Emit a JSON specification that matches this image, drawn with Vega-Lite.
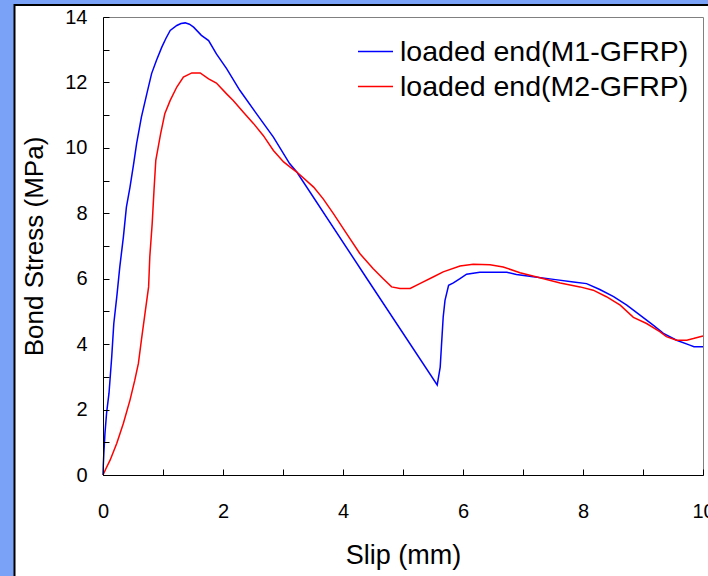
{
  "$schema": "https://vega.github.io/schema/vega-lite/v6.json",
  "width": 600,
  "height": 458,
  "autosize": "none",
  "padding": {"left": 103, "top": 17, "right": 5, "bottom": 101},
  "background": "#7aa2f6",
  "config": {
    "font": "Liberation Sans",
    "view": {"stroke": null},
    "axis": {"grid": false, "domainColor": "#000000", "tickColor": "#000000", "labelColor": "#000000", "titleColor": "#000000", "titleFontWeight": "normal"}
  },
  "datasets": {
    "curves": [
      {"series": "loaded end(M1-GFRP)", "slip": 0, "stress": 0},
      {"series": "loaded end(M1-GFRP)", "slip": 0.005, "stress": 0.3},
      {"series": "loaded end(M1-GFRP)", "slip": 0.015, "stress": 0.7},
      {"series": "loaded end(M1-GFRP)", "slip": 0.033, "stress": 1.28},
      {"series": "loaded end(M1-GFRP)", "slip": 0.06, "stress": 1.9},
      {"series": "loaded end(M1-GFRP)", "slip": 0.1, "stress": 2.5},
      {"series": "loaded end(M1-GFRP)", "slip": 0.145, "stress": 3.6},
      {"series": "loaded end(M1-GFRP)", "slip": 0.18, "stress": 4.63},
      {"series": "loaded end(M1-GFRP)", "slip": 0.23, "stress": 5.45},
      {"series": "loaded end(M1-GFRP)", "slip": 0.28, "stress": 6.36},
      {"series": "loaded end(M1-GFRP)", "slip": 0.34, "stress": 7.28},
      {"series": "loaded end(M1-GFRP)", "slip": 0.39, "stress": 8.19},
      {"series": "loaded end(M1-GFRP)", "slip": 0.45, "stress": 8.8},
      {"series": "loaded end(M1-GFRP)", "slip": 0.51, "stress": 9.5},
      {"series": "loaded end(M1-GFRP)", "slip": 0.56, "stress": 10.13},
      {"series": "loaded end(M1-GFRP)", "slip": 0.64, "stress": 10.94},
      {"series": "loaded end(M1-GFRP)", "slip": 0.73, "stress": 11.65},
      {"series": "loaded end(M1-GFRP)", "slip": 0.81, "stress": 12.27},
      {"series": "loaded end(M1-GFRP)", "slip": 0.89, "stress": 12.67},
      {"series": "loaded end(M1-GFRP)", "slip": 0.98, "stress": 13.08},
      {"series": "loaded end(M1-GFRP)", "slip": 1.05, "stress": 13.35},
      {"series": "loaded end(M1-GFRP)", "slip": 1.12, "stress": 13.59},
      {"series": "loaded end(M1-GFRP)", "slip": 1.23, "stress": 13.74},
      {"series": "loaded end(M1-GFRP)", "slip": 1.3, "stress": 13.8},
      {"series": "loaded end(M1-GFRP)", "slip": 1.37, "stress": 13.82},
      {"series": "loaded end(M1-GFRP)", "slip": 1.44, "stress": 13.78},
      {"series": "loaded end(M1-GFRP)", "slip": 1.51, "stress": 13.69},
      {"series": "loaded end(M1-GFRP)", "slip": 1.64, "stress": 13.44},
      {"series": "loaded end(M1-GFRP)", "slip": 1.76, "stress": 13.28},
      {"series": "loaded end(M1-GFRP)", "slip": 1.89, "stress": 12.87},
      {"series": "loaded end(M1-GFRP)", "slip": 2.06, "stress": 12.42},
      {"series": "loaded end(M1-GFRP)", "slip": 2.28, "stress": 11.76},
      {"series": "loaded end(M1-GFRP)", "slip": 2.56, "stress": 11.04},
      {"series": "loaded end(M1-GFRP)", "slip": 2.84, "stress": 10.33},
      {"series": "loaded end(M1-GFRP)", "slip": 3.11, "stress": 9.52},
      {"series": "loaded end(M1-GFRP)", "slip": 3.23, "stress": 9.26},
      {"series": "loaded end(M1-GFRP)", "slip": 4.4, "stress": 6.0},
      {"series": "loaded end(M1-GFRP)", "slip": 5.57, "stress": 2.75},
      {"series": "loaded end(M1-GFRP)", "slip": 5.62, "stress": 3.3},
      {"series": "loaded end(M1-GFRP)", "slip": 5.64, "stress": 3.92},
      {"series": "loaded end(M1-GFRP)", "slip": 5.67, "stress": 4.83},
      {"series": "loaded end(M1-GFRP)", "slip": 5.7, "stress": 5.34},
      {"series": "loaded end(M1-GFRP)", "slip": 5.76, "stress": 5.8},
      {"series": "loaded end(M1-GFRP)", "slip": 5.84, "stress": 5.87},
      {"series": "loaded end(M1-GFRP)", "slip": 5.95, "stress": 6.0},
      {"series": "loaded end(M1-GFRP)", "slip": 6.06, "stress": 6.14},
      {"series": "loaded end(M1-GFRP)", "slip": 6.28, "stress": 6.2},
      {"series": "loaded end(M1-GFRP)", "slip": 6.73, "stress": 6.2},
      {"series": "loaded end(M1-GFRP)", "slip": 6.89, "stress": 6.13},
      {"series": "loaded end(M1-GFRP)", "slip": 7.17, "stress": 6.06},
      {"series": "loaded end(M1-GFRP)", "slip": 7.51, "stress": 5.98},
      {"series": "loaded end(M1-GFRP)", "slip": 7.84, "stress": 5.9},
      {"series": "loaded end(M1-GFRP)", "slip": 8.06, "stress": 5.85},
      {"series": "loaded end(M1-GFRP)", "slip": 8.28, "stress": 5.67},
      {"series": "loaded end(M1-GFRP)", "slip": 8.51, "stress": 5.45},
      {"series": "loaded end(M1-GFRP)", "slip": 8.73, "stress": 5.19},
      {"series": "loaded end(M1-GFRP)", "slip": 8.95, "stress": 4.89},
      {"series": "loaded end(M1-GFRP)", "slip": 9.17, "stress": 4.58},
      {"series": "loaded end(M1-GFRP)", "slip": 9.34, "stress": 4.33},
      {"series": "loaded end(M1-GFRP)", "slip": 9.56, "stress": 4.12},
      {"series": "loaded end(M1-GFRP)", "slip": 9.78, "stress": 3.97},
      {"series": "loaded end(M1-GFRP)", "slip": 9.85, "stress": 3.92},
      {"series": "loaded end(M1-GFRP)", "slip": 10, "stress": 3.92},
      {"series": "loaded end(M2-GFRP)", "slip": 0, "stress": 0},
      {"series": "loaded end(M2-GFRP)", "slip": 0.05, "stress": 0.2},
      {"series": "loaded end(M2-GFRP)", "slip": 0.12, "stress": 0.46},
      {"series": "loaded end(M2-GFRP)", "slip": 0.23, "stress": 0.97},
      {"series": "loaded end(M2-GFRP)", "slip": 0.34, "stress": 1.58},
      {"series": "loaded end(M2-GFRP)", "slip": 0.45, "stress": 2.29},
      {"series": "loaded end(M2-GFRP)", "slip": 0.53, "stress": 2.9},
      {"series": "loaded end(M2-GFRP)", "slip": 0.59, "stress": 3.41},
      {"series": "loaded end(M2-GFRP)", "slip": 0.64, "stress": 4.12},
      {"series": "loaded end(M2-GFRP)", "slip": 0.7, "stress": 4.94},
      {"series": "loaded end(M2-GFRP)", "slip": 0.76, "stress": 5.75},
      {"series": "loaded end(M2-GFRP)", "slip": 0.78, "stress": 6.67},
      {"series": "loaded end(M2-GFRP)", "slip": 0.82, "stress": 7.69},
      {"series": "loaded end(M2-GFRP)", "slip": 0.85, "stress": 8.7},
      {"series": "loaded end(M2-GFRP)", "slip": 0.88, "stress": 9.62},
      {"series": "loaded end(M2-GFRP)", "slip": 0.92, "stress": 10.02},
      {"series": "loaded end(M2-GFRP)", "slip": 0.96, "stress": 10.43},
      {"series": "loaded end(M2-GFRP)", "slip": 1.03, "stress": 11.04},
      {"series": "loaded end(M2-GFRP)", "slip": 1.12, "stress": 11.45},
      {"series": "loaded end(M2-GFRP)", "slip": 1.23, "stress": 11.86},
      {"series": "loaded end(M2-GFRP)", "slip": 1.34, "stress": 12.16},
      {"series": "loaded end(M2-GFRP)", "slip": 1.48, "stress": 12.29},
      {"series": "loaded end(M2-GFRP)", "slip": 1.62, "stress": 12.29},
      {"series": "loaded end(M2-GFRP)", "slip": 1.76, "stress": 12.11},
      {"series": "loaded end(M2-GFRP)", "slip": 1.89, "stress": 11.98},
      {"series": "loaded end(M2-GFRP)", "slip": 2.06, "stress": 11.65},
      {"series": "loaded end(M2-GFRP)", "slip": 2.17, "stress": 11.45},
      {"series": "loaded end(M2-GFRP)", "slip": 2.34, "stress": 11.09},
      {"series": "loaded end(M2-GFRP)", "slip": 2.51, "stress": 10.74},
      {"series": "loaded end(M2-GFRP)", "slip": 2.67, "stress": 10.38},
      {"series": "loaded end(M2-GFRP)", "slip": 2.84, "stress": 9.92},
      {"series": "loaded end(M2-GFRP)", "slip": 3.01, "stress": 9.57},
      {"series": "loaded end(M2-GFRP)", "slip": 3.12, "stress": 9.41},
      {"series": "loaded end(M2-GFRP)", "slip": 3.23, "stress": 9.26},
      {"series": "loaded end(M2-GFRP)", "slip": 3.51, "stress": 8.8},
      {"series": "loaded end(M2-GFRP)", "slip": 3.67, "stress": 8.44},
      {"series": "loaded end(M2-GFRP)", "slip": 3.84, "stress": 7.99},
      {"series": "loaded end(M2-GFRP)", "slip": 4.06, "stress": 7.38},
      {"series": "loaded end(M2-GFRP)", "slip": 4.28, "stress": 6.77},
      {"series": "loaded end(M2-GFRP)", "slip": 4.5, "stress": 6.31},
      {"series": "loaded end(M2-GFRP)", "slip": 4.67, "stress": 6.0},
      {"series": "loaded end(M2-GFRP)", "slip": 4.81, "stress": 5.75},
      {"series": "loaded end(M2-GFRP)", "slip": 4.95, "stress": 5.7},
      {"series": "loaded end(M2-GFRP)", "slip": 5.12, "stress": 5.7},
      {"series": "loaded end(M2-GFRP)", "slip": 5.28, "stress": 5.85},
      {"series": "loaded end(M2-GFRP)", "slip": 5.51, "stress": 6.06},
      {"series": "loaded end(M2-GFRP)", "slip": 5.67, "stress": 6.21},
      {"series": "loaded end(M2-GFRP)", "slip": 5.95, "stress": 6.39},
      {"series": "loaded end(M2-GFRP)", "slip": 6.17, "stress": 6.44},
      {"series": "loaded end(M2-GFRP)", "slip": 6.45, "stress": 6.43},
      {"series": "loaded end(M2-GFRP)", "slip": 6.67, "stress": 6.36},
      {"series": "loaded end(M2-GFRP)", "slip": 6.95, "stress": 6.18},
      {"series": "loaded end(M2-GFRP)", "slip": 7.28, "stress": 6.03},
      {"series": "loaded end(M2-GFRP)", "slip": 7.62, "stress": 5.87},
      {"series": "loaded end(M2-GFRP)", "slip": 7.95, "stress": 5.75},
      {"series": "loaded end(M2-GFRP)", "slip": 8.17, "stress": 5.65},
      {"series": "loaded end(M2-GFRP)", "slip": 8.39, "stress": 5.45},
      {"series": "loaded end(M2-GFRP)", "slip": 8.62, "stress": 5.19},
      {"series": "loaded end(M2-GFRP)", "slip": 8.84, "stress": 4.82},
      {"series": "loaded end(M2-GFRP)", "slip": 9.06, "stress": 4.63},
      {"series": "loaded end(M2-GFRP)", "slip": 9.28, "stress": 4.38},
      {"series": "loaded end(M2-GFRP)", "slip": 9.39, "stress": 4.23},
      {"series": "loaded end(M2-GFRP)", "slip": 9.56, "stress": 4.12},
      {"series": "loaded end(M2-GFRP)", "slip": 9.73, "stress": 4.12},
      {"series": "loaded end(M2-GFRP)", "slip": 9.84, "stress": 4.17},
      {"series": "loaded end(M2-GFRP)", "slip": 10, "stress": 4.25}
    ],
    "panel": [{"part": "figure panel"}]
  },
  "resolve": {"axis": {"x": "independent", "y": "independent"}},
  "layer": [
    {
      "data": {"name": "panel"},
      "mark": {"type": "rect", "fill": "#ffffff", "stroke": "#000000", "strokeWidth": 2, "clip": false},
      "encoding": {
        "x": {"datum": -1.475, "type": "quantitative", "scale": {"domain": [0, 10]},
              "axis": {"orient": "top", "labels": false, "ticks": false, "title": null, "domainColor": "#808080", "zindex": 1}},
        "x2": {"datum": 12},
        "y": {"datum": 14.366, "type": "quantitative", "scale": {"domain": [0, 14]},
              "axis": {"orient": "right", "labels": false, "ticks": false, "title": null, "domainColor": "#808080", "zindex": 1}},
        "y2": {"datum": -5}
      }
    },
    {
      "data": {"name": "curves"},
      "mark": {"type": "line", "strokeWidth": 1.5, "interpolate": "linear"},
      "encoding": {
        "x": {"field": "slip", "type": "quantitative", "scale": {"domain": [0, 10], "nice": false},
              "axis": {"orient": "bottom", "zindex": 2, "values": [0,1,2,3,4,5,6,7,8,9,10], "labelExpr": "datum.value % 2 == 0 ? datum.label : ''",
                       "tickSize": -6, "labelPadding": 32, "labelFontSize": 20, "title": "Slip (mm)", "titleFontSize": 27, "titlePadding": 21, "labelFlush": false, "labelOverlap": false}},
        "y": {"field": "stress", "type": "quantitative", "scale": {"domain": [0, 14], "nice": false},
              "axis": {"orient": "left", "zindex": 2, "values": [0,1,2,3,4,5,6,7,8,9,10,11,12,13,14], "labelExpr": "datum.value % 2 == 0 ? datum.label : ''",
                       "tickSize": -6, "labelPadding": 22, "labelFontSize": 20, "title": "Bond Stress (MPa)", "titleFontSize": 26, "titlePadding": 17, "labelFlush": false, "labelOverlap": false}},
        "color": {"field": "series", "type": "nominal",
                  "scale": {"domain": ["loaded end(M1-GFRP)", "loaded end(M2-GFRP)"], "range": ["#0000ff", "#ff0000"]},
                  "legend": {"orient": "none", "legendX": 254, "legendY": 16, "title": null, "symbolType": "stroke", "symbolSize": 1225, "symbolStrokeWidth": 1.5,
                             "labelFontSize": 28.5, "labelOffset": 6, "rowPadding": 2, "padding": 0, "labelLimit": 400}}
      }
    }
  ]
}
